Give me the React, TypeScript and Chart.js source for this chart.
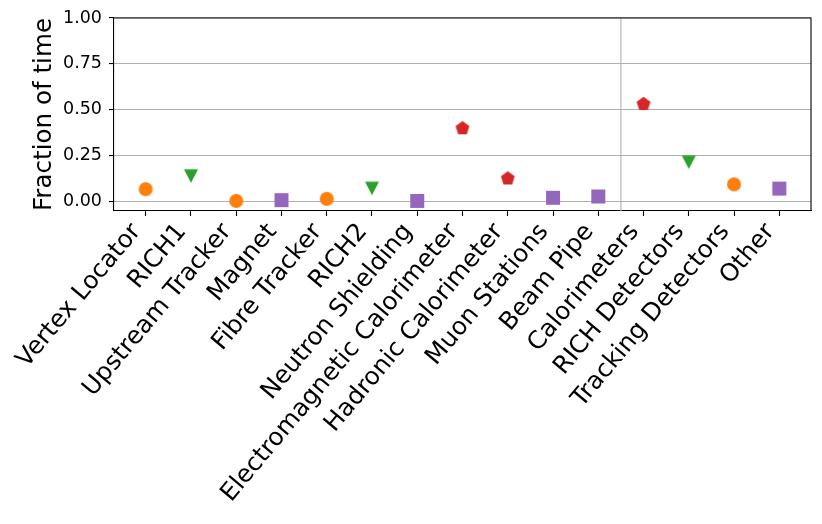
import React, { useEffect, useRef } from "react";
import { Chart, registerables } from "chart.js";

Chart.register(...registerables);

const categories = [
  "Vertex Locator",
  "RICH1",
  "Upstream Tracker",
  "Magnet",
  "Fibre Tracker",
  "RICH2",
  "Neutron Shielding",
  "Electromagnetic Calorimeter",
  "Hadronic Calorimeter",
  "Muon Stations",
  "Beam Pipe",
  "Calorimeters",
  "RICH Detectors",
  "Tracking Detectors",
  "Other",
];
const fractions = [0.069, 0.14, 0.005, 0.009, 0.016, 0.073, 0.005, 0.4, 0.127, 0.022, 0.029, 0.532, 0.215, 0.095, 0.072];
const groups = ["track", "rich", "track", "other", "track", "rich", "other", "calo", "calo", "other", "other", "calo", "rich", "track", "other"];
const yTicks = [0, 0.25, 0.5, 0.75, 1.0];
const separatorAt = 10.5;

const groupColor: Record<string, string> = {
  track: "#ff7f0e",
  rich: "#2ca02c",
  calo: "#d62728",
  other: "#9467bd",
};

function makeMarker(kind: string, color: string): HTMLCanvasElement {
  const s = 18;
  const c = document.createElement("canvas");
  c.width = s;
  c.height = s;
  const ctx = c.getContext("2d")!;
  ctx.fillStyle = color;
  const cx = s / 2, cy = s / 2;
  ctx.beginPath();
  if (kind === "track") {
    ctx.arc(cx, cy, 7, 0, Math.PI * 2);
  } else if (kind === "rich") {
    const h = 7;
    ctx.moveTo(cx - h, cy - h * 0.95);
    ctx.lineTo(cx + h, cy - h * 0.95);
    ctx.lineTo(cx, cy + h * 0.95);
    ctx.closePath();
  } else if (kind === "calo") {
    const r = 7.3;
    for (let k = 0; k < 5; k++) {
      const a = -Math.PI / 2 + (k * 2 * Math.PI) / 5;
      const px = cx + r * Math.cos(a);
      const py = cy + r * Math.sin(a);
      if (k === 0) ctx.moveTo(px, py);
      else ctx.lineTo(px, py);
    }
    ctx.closePath();
  } else {
    ctx.rect(cx - 7, cy - 7, 14, 14);
  }
  ctx.fill();
  return c;
}

export default function App() {
  const ref = useRef<HTMLCanvasElement | null>(null);

  useEffect(() => {
    document.body.style.margin = "0";
    const canvas = ref.current!;
    const markers = groups.map((g) => makeMarker(g, groupColor[g]));

    const framePlugin = {
      id: "frame",
      beforeDatasetsDraw(chart: any) {
        const { ctx, chartArea, scales } = chart;
        const x = scales.x.getPixelForValue(separatorAt);
        ctx.save();
        ctx.strokeStyle = "#b0b0b0";
        ctx.lineWidth = 1.1;
        ctx.beginPath();
        ctx.moveTo(x, chartArea.top);
        ctx.lineTo(x, chartArea.bottom);
        ctx.stroke();
        ctx.restore();
      },
      afterDatasetsDraw(chart: any) {
        const { ctx, chartArea } = chart;
        ctx.save();
        ctx.strokeStyle = "#000";
        ctx.lineWidth = 1.1;
        ctx.beginPath();
        ctx.moveTo(chartArea.left, chartArea.top);
        ctx.lineTo(chartArea.right, chartArea.top);
        ctx.lineTo(chartArea.right, chartArea.bottom);
        ctx.stroke();
        ctx.restore();
      },
    };

    const chart = new Chart(canvas, {
      type: "scatter",
      data: {
        datasets: [
          {
            data: fractions.map((v, i) => ({ x: i, y: v })),
            pointStyle: markers as any,
            pointRadius: 7,
            pointHoverRadius: 7,
            backgroundColor: groups.map((g) => groupColor[g]),
            borderWidth: 0,
          },
        ],
      },
      plugins: [framePlugin],
      options: {
        animation: false,
        responsive: false,
        devicePixelRatio: 1,
        layout: { padding: { top: 18, right: 11, left: 0, bottom: 0 } },
        plugins: { legend: { display: false }, tooltip: { enabled: false } },
        scales: {
          x: {
            type: "linear",
            min: -0.7,
            max: 14.7,
            afterBuildTicks: (scale: any) => {
              scale.ticks = categories.map((_, i) => ({ value: i }));
            },
            afterFit: (scale: any) => {
              scale.height = 313;
            },
            grid: {
              drawOnChartArea: false,
              drawTicks: true,
              tickLength: 5,
              tickColor: "#000",
              tickWidth: 1.1,
            },
            border: { color: "#000", width: 1.1 },
            ticks: {
              autoSkip: false,
              minRotation: 50,
              maxRotation: 50,
              padding: 2,
              labelOffset: -9,
              color: "#000",
              font: { family: "DejaVu Sans", size: 24.6 },
              callback: (v: any) => categories[Math.round(Number(v))] ?? "",
            },
          },
          y: {
            min: -0.05,
            max: 1.0,
            afterBuildTicks: (scale: any) => {
              scale.ticks = yTicks.map((v) => ({ value: v }));
            },
            afterFit: (scale: any) => {
              scale.width = 114;
            },
            grid: {
              color: "#b0b0b0",
              lineWidth: 1.1,
              drawTicks: true,
              tickLength: 5,
              tickColor: "#000",
              tickWidth: 1.1,
            },
            border: { color: "#000", width: 1.1 },
            title: {
              display: true,
              text: "Fraction of time",
              color: "#000",
              font: { family: "DejaVu Sans", size: 24.6 },
              padding: { top: 30, bottom: 0 },
            },
            ticks: {
              padding: 7,
              color: "#000",
              font: { family: "DejaVu Sans", size: 17.5 },
              callback: (v: any) => Number(v).toFixed(2),
            },
          },
        },
      },
    });
    return () => chart.destroy();
  }, []);

  return <canvas ref={ref} width={822} height={524} style={{ display: "block", width: 822, height: 524 }} />;
}
